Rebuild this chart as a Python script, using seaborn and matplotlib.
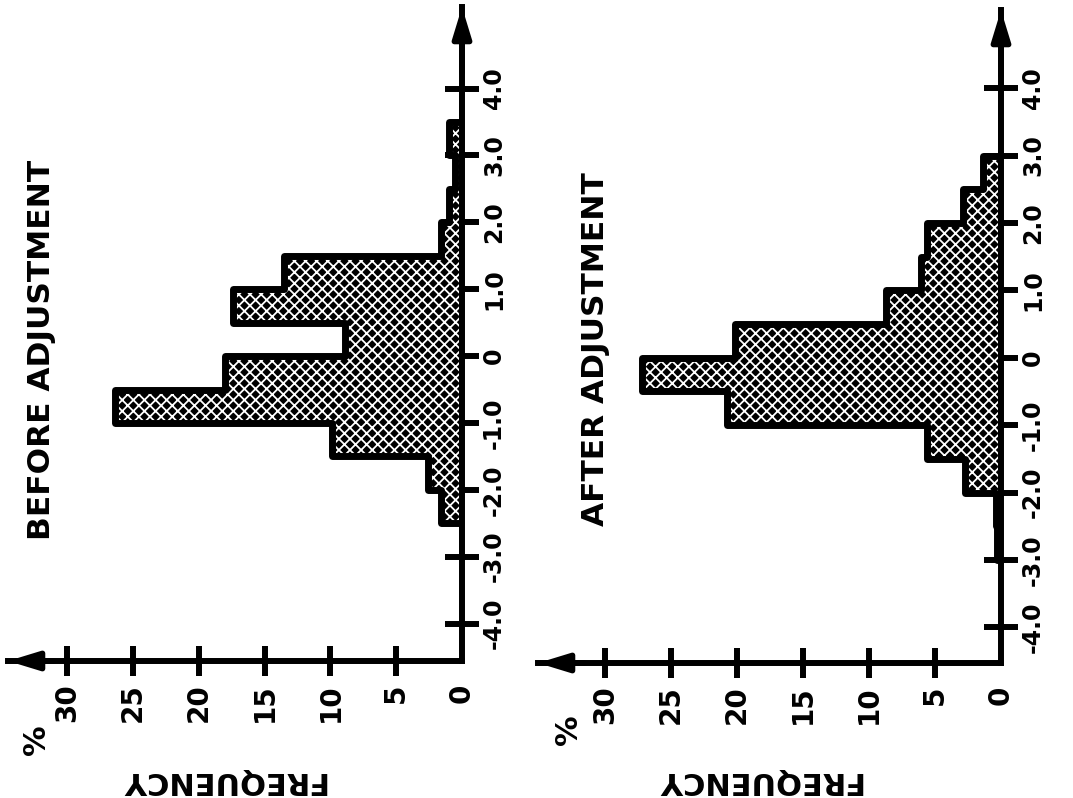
import numpy as np
import pandas as pd
import matplotlib
matplotlib.use("Agg")
import matplotlib.pyplot as plt
import seaborn as sns

# Deviation bins (0.5 wide) and percentage frequency in each bin
bin_edges = [-3.0, -2.5, -2.0, -1.5, -1.0, -0.5, 0.0, 0.5, 1.0, 1.5, 2.0, 2.5, 3.0, 3.5, 4.0]
before_pct = [0.0, 1.6, 2.6, 9.9, 26.4, 18.0, 8.9, 17.4, 13.5, 1.6, 1.0, 0.5, 1.0, 0.0]
after_pct = [0.3, 0.4, 2.7, 5.6, 20.8, 27.2, 20.2, 8.7, 6.1, 5.6, 2.9, 1.4, 0.0, 0.0]

panel_titles = ["BEFORE ADJUSTMENT", "AFTER ADJUSTMENT"]
freq_label = "FREQUENCY"
pct_sign = "%"

value_ticks = [-4.0, -3.0, -2.0, -1.0, 0.0, 1.0, 2.0, 3.0, 4.0]
value_labels = ["-4.0", "-3.0", "-2.0", "-1.0", "0", "1.0", "2.0", "3.0", "4.0"]
freq_ticks = [0, 5, 10, 15, 20, 25, 30]
freq_labels = ["0", "5", "10", "15", "20", "25", "30"]

sns.set_style("white")
plt.rcParams["font.family"] = ["DejaVu Sans"]
plt.rcParams["font.weight"] = "bold"
plt.rcParams["text.color"] = "black"
plt.rcParams["hatch.color"] = "white"
plt.rcParams["hatch.linewidth"] = 1.3

W, H = 1073, 798
fig = plt.figure(figsize=(W / 100, H / 100), dpi=100)
fig.patch.set_facecolor("white")


def px_axes(left, top, right, bottom):
    return fig.add_axes([left / W, 1 - bottom / H, (right - left) / W, (bottom - top) / H])


def fig_text(x, y, s, **kw):
    fig.text(x / W, 1 - y / H, s, ha="center", va="center", fontweight="bold",
             color="black", **kw)


centers = [(a + b) / 2 for a, b in zip(bin_edges[:-1], bin_edges[1:])]

layouts = [
    dict(box=(8, 7, 462, 661), xlim=(34.5, 0), ylim=(-4.56, 5.22),
         title_xy=(42, 350), pct_xy=(36, 740), freq_xy=(222, 780)),
    dict(box=(538, 10, 1001, 663), xlim=(35.1, 0), ylim=(-4.53, 5.16),
         title_xy=(595, 349), pct_xy=(568, 730), freq_xy=(758, 780)),
]

for title, pct, lay in zip(panel_titles, [before_pct, after_pct], layouts):
    ax = px_axes(*lay["box"])
    ax.set_facecolor("none")
    df = pd.DataFrame({"deviation": centers, "pct": pct})

    # dotted halftone fill
    sns.histplot(data=df, y="deviation", weights="pct", bins=bin_edges,
                 element="step", fill=True, facecolor=(0, 0, 0, 1),
                 edgecolor="white", linewidth=0, hatch="xxx", ax=ax)
    # heavy outline of the steps
    sns.histplot(data=df, y="deviation", weights="pct", bins=bin_edges,
                 element="step", fill=False, color="black", linewidth=5.0, ax=ax)

    ax.set_xlim(*lay["xlim"])
    ax.set_ylim(*lay["ylim"])
    ax.set_xlabel("")
    ax.set_ylabel("")

    for s in ["top", "left"]:
        ax.spines[s].set_visible(False)
    for s in ["right", "bottom"]:
        ax.spines[s].set_visible(True)
        ax.spines[s].set_linewidth(4.3)
        ax.spines[s].set_color("black")
        ax.spines[s].set_capstyle("projecting")

    ax.yaxis.tick_right()
    ax.set_yticks(value_ticks, value_labels)
    ax.tick_params(axis="y", which="major", direction="inout", length=24, width=4.3,
                   pad=2.5, labelsize=17, right=True, left=False, colors="black")
    for lab in ax.get_yticklabels():
        lab.set_rotation(90)
        lab.set_va("center")
        lab.set_fontweight("bold")

    ax.set_xticks(freq_ticks, freq_labels)
    ax.tick_params(axis="x", which="major", direction="inout", length=22, width=4.3,
                   pad=5, labelsize=20, bottom=True, top=False, colors="black")
    for lab in ax.get_xticklabels():
        lab.set_rotation(90)
        lab.set_fontweight("bold")
    ax.xaxis.get_major_ticks()[0].tick1line.set_visible(False)

    arrow = dict(arrowstyle="-|>,head_length=1.8,head_width=0.55", color="black",
                 lw=4.0, shrinkA=0, shrinkB=0)
    ax.annotate("", xy=(1, 1), xycoords="axes fraction", xytext=(1, 0.9),
                textcoords="axes fraction", arrowprops=arrow, annotation_clip=False)
    ax.annotate("", xy=(0, 0), xycoords="axes fraction", xytext=(0.1, 0),
                textcoords="axes fraction", arrowprops=arrow, annotation_clip=False)

    fig_text(*lay["title_xy"], title, rotation=90, fontsize=22.5)
    fig_text(*lay["pct_xy"], pct_sign, rotation=90, fontsize=22)
    fig_text(*lay["freq_xy"], freq_label, rotation=180, fontsize=22)

fig.savefig("out.png", dpi=100, facecolor="white")
